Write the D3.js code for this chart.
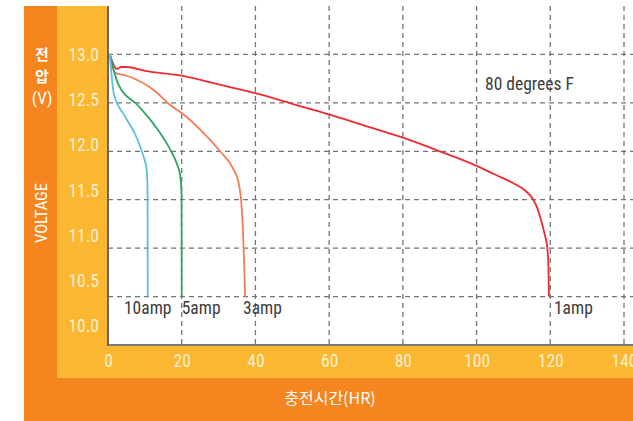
<!DOCTYPE html>
<html><head><meta charset="utf-8">
<script src="https://cdn.jsdelivr.net/npm/d3@7"></script>
<style>body{margin:0;background:#fff}svg{display:block}</style>
</head><body><svg id="c" width="633" height="421"></svg>
<script>
// ---- data ----
const hours1amp = [0.5, 2.4, 3.6, 5.1, 10, 20, 30, 40, 50, 60, 70, 80, 90, 100, 105, 110, 113, 115.4, 116.5, 117.4, 118.5, 119.2, 119.5, 119.65];
const volts1amp = [13.0, 12.85, 12.87, 12.87, 12.83, 12.78, 12.69, 12.6, 12.49, 12.38, 12.26, 12.14, 12.0, 11.85, 11.76, 11.67, 11.6, 11.5, 11.41, 11.3, 11.14, 11.0, 10.8, 10.5];
const hours3amp = [0.5, 1.9, 5.1, 12.8, 16.8, 20.5, 25.9, 30.4, 34.1, 35.4, 36.1, 36.6, 36.9, 37.2];
const volts3amp = [13.0, 12.81, 12.78, 12.62, 12.48, 12.38, 12.19, 12.0, 11.81, 11.68, 11.5, 11.2, 10.9, 10.5];
const hours5amp = [0.5, 2.8, 8.2, 12.8, 16.4, 18.7, 19.6, 19.95, 20.0];
const volts5amp = [13.0, 12.69, 12.47, 12.26, 12.05, 11.87, 11.75, 11.55, 10.5];
const hours10amp = [0.5, 1.6, 4.6, 7.8, 9.6, 10.5, 10.72, 10.78];
const volts10amp = [13.0, 12.59, 12.36, 12.14, 11.95, 11.81, 11.62, 10.5];
const seriesNames = ["1amp", "3amp", "5amp", "10amp"];
const seriesColors = ["#ee2a33", "#f47c52", "#2ea562", "#5dbde8"];
const xTicks = [0, 20, 40, 60, 80, 100, 120, 140];
const yTicks = [10.0, 10.5, 11.0, 11.5, 12.0, 12.5, 13.0];
const yTitleKo = ["전", "압", "(V)"];
const yTitleEn = "VOLTAGE";
const xTitle = "충전시간(HR)";
const noteText = "80 degrees F";

const series = [
  {name: seriesNames[0], color: seriesColors[0], hours: hours1amp, volts: volts1amp, anchor: "start", dx: 5},
  {name: seriesNames[1], color: seriesColors[1], hours: hours3amp, volts: volts3amp, anchor: "start", dx: -2},
  {name: seriesNames[2], color: seriesColors[2], hours: hours5amp, volts: volts5amp, anchor: "start", dx: 0},
  {name: seriesNames[3], color: seriesColors[3], hours: hours10amp, volts: volts10amp, anchor: "middle", dx: 0}
];

// ---- layout ----
const W = 633, H = 421;
const orange = "#f5851f", yellow = "#fbb732", tickCol = "#fff0cc";
const narrow = "'Liberation Sans Narrow','Roboto Condensed','Arial Narrow','DejaVu Sans Condensed',sans-serif";
const svg = d3.select("#c");
const plot = {l: 108, t: 6, r: 633, b: 345};

const x = d3.scaleLinear().domain([0, 140]).range([108, 624]);
const y = d3.scaleLinear().domain([10, 13.5]).range([plot.b, plot.t]);
const yLabel = d3.scaleLinear().domain([10, 13]).range([326, 55]);

svg.append("rect").attr("x", 24).attr("y", 6).attr("width", W - 24).attr("height", H - 6).attr("fill", orange);
svg.append("rect").attr("x", 57).attr("y", 6).attr("width", W - 57).attr("height", 378 - 6).attr("fill", yellow);
svg.append("rect").attr("x", plot.l).attr("y", plot.t).attr("width", plot.r - plot.l).attr("height", plot.b - plot.t).attr("fill", "#fff");

// grid
const grid = svg.append("g").attr("stroke", "#747474").attr("stroke-width", 1.3).attr("stroke-dasharray", "5,4");
grid.selectAll("line.h").data(yTicks.filter(v => v > 10)).join("line")
  .attr("x1", plot.l).attr("x2", plot.r).attr("y1", d => y(d)).attr("y2", d => y(d));
grid.selectAll("line.v").data(xTicks.filter(v => v > 0)).join("line")
  .attr("y1", plot.t).attr("y2", plot.b).attr("x1", d => x(d)).attr("x2", d => x(d));

// axis lines
svg.append("line").attr("x1", plot.l).attr("x2", plot.r).attr("y1", plot.b).attr("y2", plot.b).attr("stroke", "#7a7a7a").attr("stroke-width", 2);
svg.append("line").attr("x1", plot.l).attr("x2", plot.l).attr("y1", plot.t).attr("y2", plot.b + 1).attr("stroke", "#666").attr("stroke-width", 2);

// series lines
const line = d3.line().curve(d3.curveMonotoneX).x(d => x(d[0])).y(d => y(d[1]));
series.forEach(s => {
  const pts = s.hours.map((h, i) => [h, s.volts[i]]);
  svg.append("path").datum(pts).attr("d", line).attr("fill", "none")
    .attr("stroke", s.color).attr("stroke-width", 1.8).attr("stroke-linejoin", "round");
  const last = pts[pts.length - 1];
  svg.append("text").attr("x", x(last[0]) + s.dx).attr("y", y(last[1]) + 17)
    .attr("text-anchor", s.anchor).attr("font-family", narrow).attr("font-size", 17.5)
    .attr("fill", "#3d3d3d").text(s.name);
});

svg.append("text").attr("x", x(102.3)).attr("y", y(12.63)).attr("font-family", narrow)
  .attr("font-size", 17.5).attr("fill", "#3d3d3d").text(noteText);

// x axis labels
const xAxis = svg.append("g").attr("transform", `translate(0,${plot.b})`)
  .call(d3.axisBottom(x).tickValues(xTicks).tickSize(0).tickPadding(10).tickFormat(d3.format("d")));
xAxis.select(".domain").remove();
xAxis.selectAll("text").attr("font-family", narrow).attr("font-size", 17.5).attr("fill", tickCol);

// y axis labels
const yAxis = svg.append("g").attr("transform", "translate(99,0)")
  .call(d3.axisLeft(yLabel).tickValues(yTicks).tickSize(0).tickPadding(0).tickFormat(d3.format(".1f")));
yAxis.select(".domain").remove();
yAxis.selectAll("text").attr("font-family", narrow).attr("font-size", 17.5).attr("fill", tickCol);

// titles
svg.selectAll("text.ko").data(yTitleKo).join("text").attr("class", "ko")
  .attr("x", 42).attr("y", (d, i) => 55 + i * 21.7).attr("dy", "0.35em")
  .attr("text-anchor", "middle").attr("fill", "#fff")
  .attr("font-family", (d, i) => i < 2 ? "'Noto Sans CJK KR',sans-serif" : narrow)
  .attr("font-weight", (d, i) => i < 2 ? "bold" : "normal")
  .attr("font-size", (d, i) => i < 2 ? 15 : 17).text(d => d);

svg.append("text").attr("transform", "translate(41,213) rotate(-90)").attr("dy", "0.35em")
  .attr("text-anchor", "middle").attr("fill", "#fff").attr("font-family", narrow)
  .attr("font-size", 16.5).text(yTitleEn);

svg.append("text").attr("x", 330).attr("y", 398).attr("dy", "0.35em").attr("text-anchor", "middle")
  .attr("fill", "#fff").attr("font-family", "'Noto Sans CJK KR',sans-serif").attr("font-size", 16)
  .text(xTitle);
</script></body></html>
